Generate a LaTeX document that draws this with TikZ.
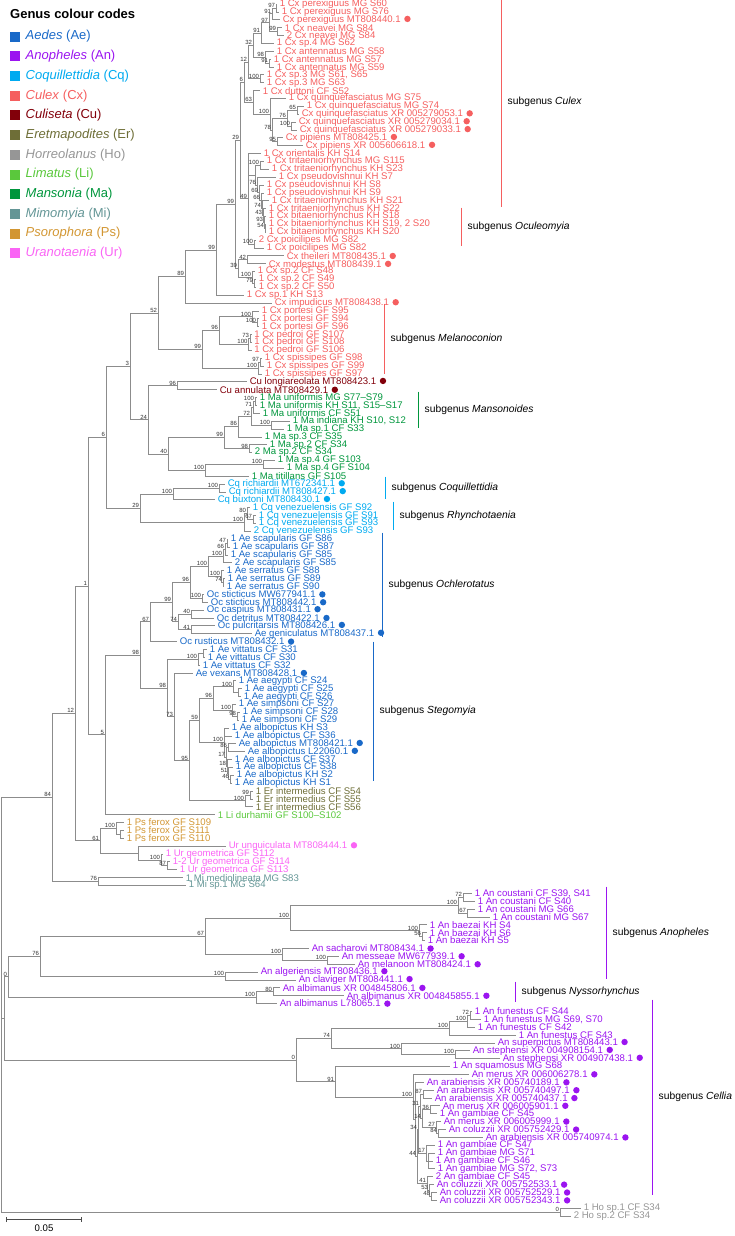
\documentclass[tikz,border=0pt]{standalone}
\usepackage{fontspec}
\setmainfont{Liberation Sans}
\usepackage{tikz}
\usetikzlibrary{calc,arrows.meta}

\definecolor{ae}{RGB}{25,105,200}
\definecolor{an}{RGB}{155,20,240}
\definecolor{cq}{RGB}{0,170,240}
\definecolor{cx}{RGB}{245,95,95}
\definecolor{cu}{RGB}{130,0,10}
\definecolor{er}{RGB}{110,110,55}
\definecolor{ho}{RGB}{150,150,150}
\definecolor{li}{RGB}{90,200,60}
\definecolor{ma}{RGB}{0,150,60}
\definecolor{mi}{RGB}{100,150,150}
\definecolor{ps}{RGB}{210,150,50}
\definecolor{ur}{RGB}{250,100,245}

\newcommand\gb{\hspace{3.5pt}\tikz[baseline=-3.3pt]\fill (0,0) circle (3.2pt);}
\newcommand\brnode[4]{\path ($(#3)!.5!(#4)$) coordinate (#1m) (#2,0) coordinate (#1x); \coordinate (#1) at (#1x |- #1m);}

\begin{document}
\begin{tikzpicture}[
    x=1pt, y=-7.87pt,
    leaf/.style={anchor=west, inner sep=0pt, xshift=2.6pt, font=\fontsize{9.6}{11}\selectfont},
    bs/.style={anchor=south east, inner sep=0.4pt, xshift=-0.4pt, font=\fontsize{6}{6}\selectfont, text=black!80},
    br/.style={draw=black!45, line width=0.7pt},
    sgbar/.style={line width=1pt},
    sglab/.style={anchor=west, inner sep=0pt, font=\fontsize{10.3}{12}\selectfont}
]
\useasboundingbox (0,0.4917) rectangle (735,157.544);

% leaves
\foreach \i/\xx/\txt in {1/277/{1 Cx perexiguus MG S60}, 2/279/{1 Cx perexiguus MG S76}, 3/280/{Cx perexiguus MT808440.1\gb},
  4/282/{1 Cx neavei MG S84}, 5/284/{2 Cx neavei MG S84}, 6/274/{1 Cx sp.4 MG S62}, 7/274/{1 Cx antennatus MG S58},
  8/271/{1 Cx antennatus MG S57}, 9/274/{1 Cx antennatus MG S59}, 10/264/{1 Cx sp.3 MG S61, S65}, 11/264/{1 Cx sp.3 MG S63},
  12/260/{1 Cx duttoni CF S52}, 13/286/{1 Cx quinquefasciatus MG S75}, 14/304/{1 Cx quinquefasciatus MG S74},
  15/299/{Cx quinquefasciatus XR 005279053.1\gb}, 16/296/{Cx quinquefasciatus XR 005279034.1\gb},
  17/297/{Cx quinquefasciatus XR 005279033.1\gb}, 18/283/{Cx pipiens MT808425.1\gb}, 19/303/{Cx pipiens XR 005606618.1\gb},
  20/261/{1 Cx orientalis KH S14}, 21/264/{1 Cx tritaeniorhynchus MG S115}, 22/269/{1 Cx tritaeniorhynchus KH S23},
  23/276/{1 Cx pseudovishnui KH S7}, 24/264/{1 Cx pseudovishnui KH S8}, 25/264/{1 Cx pseudovishnui KH S9},
  26/269/{1 Cx tritaeniorhynchus KH S21}, 27/266/{1 Cx tritaeniorhynchus KH S22}, 28/266/{1 Cx bitaeniorhynchus KH S18},
  29/266/{1 Cx bitaeniorhynchus KH S19, 2 S20}, 30/266/{1 Cx bitaeniorhynchus KH S20}, 31/256/{2 Cx poicilipes MG S82},
  32/264/{1 Cx poicilipes MG S82}, 33/284/{Cx theileri MT808435.1\gb}, 34/266/{Cx modestus MT808439.1\gb},
  35/255/{1 Cx sp.2 CF S48}, 36/256/{1 Cx sp.2 CF S49}, 37/256/{1 Cx sp.2 CF S50}, 38/244/{1 Cx sp.1 KH S13},
  39/272/{Cx impudicus MT808438.1\gb}, 40/259/{1 Cx portesi GF S95}, 41/259/{1 Cx portesi GF S94}, 42/259/{1 Cx portesi GF S96},
  43/251.5/{1 Cx pedroi GF S107}, 44/251.5/{1 Cx pedroi GF S108}, 45/251.5/{1 Cx pedroi GF S106},
  46/262/{1 Cx spissipes GF S98}, 47/264/{1 Cx spissipes GF S99}, 48/262/{1 Cx spissipes GF S97}}
  {\coordinate (t\i) at (\xx,\i); \node[leaf, text=cx] (l\i) at (t\i) {\txt};}
\foreach \i/\xx/\txt in {49/247/{Cu longiareolata MT808423.1\gb}, 50/217/{Cu annulata MT808429.1\gb}}
  {\coordinate (t\i) at (\xx,\i); \node[leaf, text=cu] (l\i) at (t\i) {\txt};}
\foreach \i/\xx/\txt in {51/257/{1 Ma uniformis MG S77–S79}, 52/257/{1 Ma uniformis KH S11, S15–S17}, 53/260/{1 Ma uniformis CF S51},
  54/290/{1 Ma indiana KH S10, S12}, 55/284/{1 Ma sp.1 CF S33}, 56/262/{1 Ma sp.3 CF S35}, 57/267/{1 Ma sp.2 CF S34},
  58/252/{2 Ma sp.2 CF S34}, 59/275/{1 Ma sp.4 GF S103}, 60/284/{1 Ma sp.4 GF S104}, 61/249/{1 Ma titillans GF S105}}
  {\coordinate (t\i) at (\xx,\i); \node[leaf, text=ma] (l\i) at (t\i) {\txt};}
\foreach \i/\xx/\txt in {62/225/{Cq richiardii MT672341.1\gb}, 63/226/{Cq richiardii MT808427.1\gb}, 64/215/{Cq buxtoni MT808430.1\gb},
  65/250/{1 Cq venezuelensis GF S92}, 66/256/{1 Cq venezuelensis GF S91}, 67/256/{1 Cq venezuelensis GF S93},
  68/251/{2 Cq venezuelensis GF S93}}
  {\coordinate (t\i) at (\xx,\i); \node[leaf, text=cq] (l\i) at (t\i) {\txt};}
\foreach \i/\xx/\txt in {69/228/{1 Ae scapularis GF S86}, 70/230/{1 Ae scapularis GF S87}, 71/228/{1 Ae scapularis GF S85},
  72/232/{2 Ae scapularis GF S85}, 73/224/{1 Ae serratus GF S88}, 74/225/{1 Ae serratus GF S89}, 75/224/{1 Ae serratus GF S90},
  76/204/{Oc sticticus MW677941.1\gb}, 77/208/{Oc sticticus MT808442.1\gb}, 78/204/{Oc caspius MT808431.1\gb},
  79/214/{Oc detritus MT808422.1\gb}, 80/215/{Oc pulcritarsis MT808426.1\gb}, 81/252/{Ae geniculatus MT808437.1\gb},
  82/177/{Oc rusticus MT808432.1\gb}, 83/207/{1 Ae vittatus CF S31}, 84/205/{1 Ae vittatus CF S30}, 85/200/{1 Ae vittatus CF S32},
  86/193/{Ae vexans MT808428.1\gb}, 87/236/{1 Ae aegypti CF S24}, 88/242/{1 Ae aegypti CF S25}, 89/241/{1 Ae aegypti CF S26},
  90/236/{1 Ae simpsoni CF S27}, 91/240/{1 Ae simpsoni CF S28}, 92/239/{1 Ae simpsoni CF S29}, 93/229/{1 Ae albopictus KH S3},
  94/232/{1 Ae albopictus CF S36}, 95/236/{Ae albopictus MT808421.1\gb}, 96/245/{Ae albopictus L22060.1\gb},
  97/232/{1 Ae albopictus CF S37}, 98/233/{1 Ae albopictus CF S38}, 99/234/{1 Ae albopictus KH S2}, 100/232/{1 Ae albopictus KH S1}}
  {\coordinate (t\i) at (\xx,\i); \node[leaf, text=ae] (l\i) at (t\i) {\txt};}
\foreach \i/\xx/\txt in {101/253/{1 Er intermedius CF S54}, 102/253/{1 Er intermedius CF S55}, 103/253/{1 Er intermedius CF S56}}
  {\coordinate (t\i) at (\xx,\i); \node[leaf, text=er] (l\i) at (t\i) {\txt};}
\coordinate (t104) at (215,104); \node[leaf, text=li] (l104) at (t104) {1 Li durhamii GF S100–S102};
\foreach \i/\xx/\txt in {105/124/{1 Ps ferox GF S109}, 106/124/{1 Ps ferox GF S111}, 107/124/{1 Ps ferox GF S110}}
  {\coordinate (t\i) at (\xx,\i); \node[leaf, text=ps] (l\i) at (t\i) {\txt};}
\foreach \i/\xx/\txt in {108/226/{Ur unguiculata MT808444.1\gb}, 109/163/{1 Ur geometrica GF S112},
  110/170/{1-2 Ur geometrica GF S114}, 111/177/{1 Ur geometrica GF S113}}
  {\coordinate (t\i) at (\xx,\i); \node[leaf, text=ur] (l\i) at (t\i) {\txt};}
\foreach \i/\xx/\txt in {112/183/{1 Mi mediolineata MG S83}, 113/186/{1 Mi sp.1 MG S64}}
  {\coordinate (t\i) at (\xx,\i); \node[leaf, text=mi] (l\i) at (t\i) {\txt};}
\foreach \i/\xx/\txt in {114/472/{1 An coustani CF S39, S41}, 115/475/{1 An coustani CF S40}, 116/475/{1 An coustani MG S66},
  117/490/{1 An coustani MG S67}, 118/427/{1 An baezai KH S4}, 119/427/{1 An baezai KH S6}, 120/425/{1 An baezai KH S5},
  121/309/{An sacharovi MT808434.1\gb}, 122/339/{An messeae MW677939.1\gb}, 123/355/{An melanoon MT808424.1\gb},
  124/258/{An algeriensis MT808436.1\gb}, 125/296/{An claviger MT808441.1\gb}, 126/280/{An albimanus XR 004845806.1\gb},
  127/344/{An albimanus XR 004845855.1\gb}, 128/277/{An albimanus L78065.1\gb}, 129/472/{1 An funestus CF S44},
  130/481/{1 An funestus MG S69, S70}, 131/475/{1 An funestus CF S42}, 132/516/{1 An funestus CF S43},
  133/495/{An superpictus MT808443.1\gb}, 134/470/{An stephensi XR 004908154.1\gb}, 135/500/{An stephensi XR 004907438.1\gb},
  136/450/{1 An squamosus MG S68}, 137/469/{An merus XR 006006278.1\gb}, 138/424/{An arabiensis XR 005740189.1\gb},
  139/434/{An arabiensis XR 005740497.1\gb}, 140/432/{An arabiensis XR 005740437.1\gb}, 141/440/{An merus XR 006005901.1\gb},
  142/437/{1 An gambiae CF S45}, 143/441/{An merus XR 006005999.1\gb}, 144/446/{An coluzzii XR 005752429.1\gb},
  145/483/{An arabiensis XR 005740974.1\gb}, 146/435/{1 An gambiae CF S47}, 147/435/{1 An gambiae MG S71},
  148/433/{1 An gambiae CF S46}, 149/435/{1 An gambiae MG S72, S73}, 150/433/{2 An gambiae CF S45},
  151/434/{An coluzzii XR 005752533.1\gb}, 152/437/{An coluzzii XR 005752529.1\gb}, 153/437/{An coluzzii XR 005752343.1\gb}}
  {\coordinate (t\i) at (\xx,\i); \node[leaf, text=an] (l\i) at (t\i) {\txt};}
\foreach \i/\xx/\txt in {154/581/{1 Ho sp.1 CF S34}, 155/571/{2 Ho sp.2 CF S34}}
  {\coordinate (t\i) at (\xx,\i); \node[leaf, text=ho] (l\i) at (t\i) {\txt};}

% internal nodes: name, x, first child, last child
\brnode{c1}{276}{t1}{t2} \brnode{c2}{272}{c1}{t3} \brnode{c3}{277}{t4}{t5} \brnode{c4}{269}{c2}{c3}
\brnode{c5}{261}{c4}{t6} \brnode{c6}{269}{t8}{t9} \brnode{c7}{265}{t7}{c6} \brnode{c8}{253}{c5}{c7}
\brnode{c9}{260}{t10}{t11} \brnode{c10}{248}{c8}{c9} \brnode{c11}{297}{t14}{t15} \brnode{c12}{291}{t16}{t17}
\brnode{c13}{287}{c11}{c12} \brnode{c14}{277}{t18}{t19} \brnode{c15}{272}{c13}{c14} \brnode{c16}{270}{t13}{c15}
\brnode{c17}{253}{t12}{c16} \brnode{c18}{244}{c10}{c17} \brnode{c19}{260}{t21}{t22} \brnode{c20}{265}{t29}{t30}
\brnode{c21}{264}{t28}{c20} \brnode{c22}{263}{t27}{c21} \brnode{c23}{262}{t26}{c22} \brnode{c24}{261}{t25}{c23}
\brnode{c25}{259}{t24}{c24} \brnode{c26}{257}{t23}{c25} \brnode{c27}{255}{c19}{c26} \brnode{c28}{254}{t31}{t32}
\brnode{c29}{248}{t20}{c28} \brnode{c30}{240}{c18}{c29} \brnode{c31}{247}{t33}{t34} \brnode{c32}{254}{t36}{t37}
\brnode{c33}{252}{t35}{c32} \brnode{c34}{238}{c31}{c33} \brnode{c35}{235}{c30}{c34} \brnode{c36}{216}{c35}{t38}
\brnode{c37}{185}{c36}{t39} \brnode{c38}{257}{t41}{t42} \brnode{c39}{252}{t40}{c38} \brnode{c40}{250}{t43}{t44}
\brnode{c41}{248.5}{c40}{t45} \brnode{c42}{219}{c39}{c41} \brnode{c43}{260}{t46}{t47} \brnode{c44}{258}{c43}{t48}
\brnode{c45}{202}{c42}{c44} \brnode{c46}{158}{c37}{c45}
\brnode{u1}{177}{t49}{t50}
\brnode{m1}{255}{t51}{t52} \brnode{m2}{253}{m1}{t53} \brnode{m3}{271}{t54}{t55} \brnode{m4}{251}{m2}{m3}
\brnode{m5}{238}{m4}{t56} \brnode{m6}{249}{t57}{t58} \brnode{m7}{224}{m5}{m6} \brnode{m8}{263}{t59}{t60}
\brnode{m9}{205}{m8}{t61} \brnode{m10}{168}{m7}{m9} \brnode{m11}{148}{u1}{m10} \brnode{m12}{130}{c46}{m11}
\brnode{q1}{219}{t62}{t63} \brnode{q2}{173}{q1}{t64} \brnode{q3}{253}{t66}{t67} \brnode{q4}{247}{t65}{q3}
\brnode{q5}{244}{q4}{t68} \brnode{q6}{140}{q2}{q5} \brnode{q7}{106}{m12}{q6}
\brnode{a1}{227}{t69}{t70} \brnode{a2}{225}{a1}{t71} \brnode{a3}{223}{a2}{t72} \brnode{a4}{223}{t74}{t75}
\brnode{a5}{221}{t73}{a4} \brnode{a6}{208}{a3}{a5} \brnode{a7}{202}{t76}{t77} \brnode{a8}{190}{a6}{a7}
\brnode{a9}{191}{t78}{t79} \brnode{a10}{191}{t80}{t81} \brnode{a11}{178}{a9}{a10} \brnode{a12}{172}{a8}{a11}
\brnode{a13}{150}{a12}{t82} \brnode{a14}{203}{t83}{t84} \brnode{a15}{198}{a14}{t85} \brnode{a16}{238}{t88}{t89}
\brnode{a17}{233}{t87}{a16} \brnode{a18}{237}{t91}{t92} \brnode{a19}{232}{t90}{a18} \brnode{a20}{213}{a17}{a19}
\brnode{a21}{228}{t95}{t96} \brnode{a22}{230}{t99}{t100} \brnode{a23}{228.5}{t98}{a22} \brnode{a24}{227}{t97}{a23}
\brnode{a25}{226}{a21}{a24} \brnode{a26}{224}{t93}{a25} \brnode{a27}{199}{a20}{a26} \brnode{a28}{250}{t101}{t102}
\brnode{a29}{245}{a28}{t103} \brnode{a30}{189}{a27}{a29} \brnode{a31}{174}{t86}{a30} \brnode{a32}{167}{a15}{a31}
\brnode{a33}{140}{a13}{a32} \brnode{a34}{105}{a33}{t104} \brnode{n1}{88}{q7}{a34}
\brnode{p1}{120}{t106}{t107} \brnode{p2}{116}{t105}{p1} \brnode{r1}{167}{t110}{t111} \brnode{r2}{161}{t109}{r1}
\brnode{r3}{138}{t108}{r2} \brnode{n61}{100}{p2}{r3} \brnode{n12}{75}{n1}{n61} \brnode{mi}{98}{t112}{t113}
\brnode{n84}{52}{n12}{mi}
\brnode{b1}{463}{t114}{t115} \brnode{b2}{467}{t116}{t117} \brnode{b3}{458}{b1}{b2} \brnode{b4}{422}{t119}{t120}
\brnode{b5}{419}{t118}{b4} \brnode{b6}{290}{b3}{b5} \brnode{b7}{327}{t122}{t123} \brnode{b8}{282}{t121}{b7}
\brnode{b9}{205}{b6}{b8} \brnode{b10}{225}{t124}{t125} \brnode{b11}{40}{b9}{b10} \brnode{b12}{273}{t126}{t127}
\brnode{b13}{256}{b12}{t128} \brnode{b14}{8}{b11}{b13}
\brnode{e1}{470}{t129}{t130} \brnode{e2}{467}{e1}{t131} \brnode{e3}{449}{e2}{t132} \brnode{e4}{455}{t134}{t135}
\brnode{e5}{401}{t133}{e4} \brnode{e6}{331}{e3}{e5} \brnode{e7}{423}{t139}{t140} \brnode{e8}{430}{t141}{t142}
\brnode{e9}{438}{t144}{t145} \brnode{e10}{436}{t143}{e9} \brnode{e11}{422}{e8}{e10} \brnode{e12}{420}{e7}{e11}
\brnode{e13}{428}{t147}{t149} \brnode{e14}{426}{t146}{e13} \brnode{e15}{418}{e12}{e14} \brnode{e16}{431}{t152}{t153}
\brnode{e17}{429}{t151}{e16} \brnode{e18}{427}{t150}{e17} \brnode{e19}{417}{e15}{e18} \brnode{e20}{415}{t138}{e19}
\brnode{e21}{413}{t137}{e20} \brnode{e22}{335}{t136}{e21} \brnode{e23}{296}{e6}{e22} \brnode{an}{4}{b14}{e23}
\brnode{h1}{560}{t154}{t155} \brnode{root}{1}{n84}{h1}

% branches
\foreach \p/\c in {c1/t1, c1/t2, c2/c1, c2/t3, c3/t4, c3/t5, c4/c2, c4/c3, c5/c4, c5/t6, c6/t8, c6/t9, c7/t7, c7/c6,
  c8/c5, c8/c7, c9/t10, c9/t11, c10/c8, c10/c9, c11/t14, c11/t15, c12/t16, c12/t17, c13/c11, c13/c12, c14/t18, c14/t19,
  c15/c13, c15/c14, c16/t13, c16/c15, c17/t12, c17/c16, c18/c10, c18/c17, c19/t21, c19/t22, c20/t29, c20/t30, c21/t28,
  c21/c20, c22/t27, c22/c21, c23/t26, c23/c22, c24/t25, c24/c23, c25/t24, c25/c24, c26/t23, c26/c25, c27/c19, c27/c26,
  c28/t31, c28/t32, c29/t20, c29/c27, c29/c28, c30/c18, c30/c29, c31/t33, c31/t34, c32/t36, c32/t37, c33/t35, c33/c32,
  c34/c31, c34/c33, c35/c30, c35/c34, c36/c35, c36/t38, c37/c36, c37/t39, c38/t41, c38/t42, c39/t40, c39/c38, c40/t43,
  c40/t44, c41/c40, c41/t45, c42/c39, c42/c41, c43/t46, c43/t47, c44/c43, c44/t48, c45/c42, c45/c44, c46/c37, c46/c45,
  u1/t49, u1/t50, m1/t51, m1/t52, m2/m1, m2/t53, m3/t54, m3/t55, m4/m2, m4/m3, m5/m4, m5/t56, m6/t57, m6/t58, m7/m5,
  m7/m6, m8/t59, m8/t60, m9/m8, m9/t61, m10/m7, m10/m9, m11/u1, m11/m10, m12/c46, m12/m11,
  q1/t62, q1/t63, q2/q1, q2/t64, q3/t66, q3/t67, q4/t65, q4/q3, q5/q4, q5/t68, q6/q2, q6/q5, q7/m12, q7/q6,
  a1/t69, a1/t70, a2/a1, a2/t71, a3/a2, a3/t72, a4/t74, a4/t75, a5/t73, a5/a4, a6/a3, a6/a5, a7/t76, a7/t77, a8/a6,
  a8/a7, a9/t78, a9/t79, a10/t80, a10/t81, a11/a9, a11/a10, a12/a8, a12/a11, a13/a12, a13/t82, a14/t83, a14/t84,
  a15/a14, a15/t85, a16/t88, a16/t89, a17/t87, a17/a16, a18/t91, a18/t92, a19/t90, a19/a18, a20/a17, a20/a19,
  a21/t95, a21/t96, a22/t99, a22/t100, a23/t98, a23/a22, a24/t97, a24/a23, a25/a21, a25/a24, a26/t93, a26/t94,
  a26/a25, a27/a20, a27/a26, a28/t101, a28/t102, a29/a28, a29/t103, a30/a27, a30/a29, a31/t86, a31/a30, a32/a15,
  a32/a31, a33/a13, a33/a32, a34/a33, a34/t104, n1/q7, n1/a34,
  p1/t106, p1/t107, p2/t105, p2/p1, r1/t110, r1/t111, r2/t109, r2/r1, r3/t108, r3/r2, n61/p2, n61/r3, n12/n1,
  n12/n61, mi/t112, mi/t113, n84/n12, n84/mi,
  b1/t114, b1/t115, b2/t116, b2/t117, b3/b1, b3/b2, b4/t119, b4/t120, b5/t118, b5/b4, b6/b3, b6/b5, b7/t122,
  b7/t123, b8/t121, b8/b7, b9/b6, b9/b8, b10/t124, b10/t125, b11/b9, b11/b10, b12/t126, b12/t127, b13/b12, b13/t128,
  b14/b11, b14/b13,
  e1/t129, e1/t130, e2/e1, e2/t131, e3/e2, e3/t132, e4/t134, e4/t135, e5/t133, e5/e4, e6/e3, e6/e5, e7/t139,
  e7/t140, e8/t141, e8/t142, e9/t144, e9/t145, e10/t143, e10/e9, e11/e8, e11/e10, e12/e7, e12/e11, e13/t147,
  e13/t148, e13/t149, e14/t146, e14/e13, e15/e12, e15/e14, e16/t152, e16/t153, e17/t151, e17/e16, e18/t150,
  e18/e17, e19/e15, e19/e18, e20/t138, e20/e19, e21/t137, e21/e20, e22/t136, e22/e21, e23/e6, e23/e22,
  an/b14, an/e23, h1/t154, h1/t155, root/n84, root/an, root/h1}
  \draw[br] (\p) |- (\c);

% bootstrap values
\foreach \nn/\v in {c1/97, c2/91, c3/99, c4/97, c5/91, c6/91, c7/98, c8/32, c9/100, c10/12, c11/65, c12/100,
  c13/76, c14/95, c15/78, c16/100, c17/63, c18/6, c19/100, c20/54, c21/93, c22/43, c23/74, c24/66, c25/69, c26/76,
  c28/100, c29/49, c30/29, c31/42, c32/79, c33/100, c34/39, c35/99, c36/99, c37/89, c38/100, c39/100, c40/73,
  c41/100, c42/96, c43/97, c44/100, c45/99, c46/52, u1/96, m1/100, m2/71, m3/100, m4/72, m5/86, m6/98, m7/99,
  m8/100, m9/100, m10/40, m11/24, m12/3, q1/100, q2/100, q3/67, q4/80, q5/100, q6/29, q7/6, a1/47, a2/66, a3/100,
  a4/74, a5/100, a6/100, a7/100, a8/96, a9/40, a10/41, a11/74, a12/99, a13/67, a15/100, a17/100, a18/98, a19/100,
  a20/96, a21/86, a22/46, a23/51, a24/18, a25/17, a26/100, a27/59, a28/99, a29/100, a30/95, a31/73, a32/98,
  a33/98, a34/5, n1/1, p2/100, r1/87, r2/100, n61/61, n12/12, mi/76, n84/84,
  b1/72, b2/67, b3/100, b4/56, b5/100, b6/100, b7/100, b8/100, b9/67, b10/100, b11/76, b12/80, b13/100, b14/0,
  e1/72, e2/100, e3/100, e4/100, e5/100, e6/74, e7/87, e8/36, e9/84, e10/27, e11/14, e12/31, e14/17, e15/34,
  e16/48, e17/53, e18/41, e19/44, e21/100, e22/91, e23/0, h1/0}
  \node[bs] (bs\nn) at (\nn) {\v};

\begin{scope}[y=-1pt, shift={(0,0.4917)}]
% legend
\node[anchor=west, inner sep=0pt, font=\bfseries\fontsize{13}{15}\selectfont] (lgtitle) at (10,17) {Genus colour codes};
\foreach \k/\col/\gn/\ab in {0/ae/Aedes/Ae, 1/an/Anopheles/An, 2/cq/Coquillettidia/Cq, 3/cx/Culex/Cx, 4/cu/Culiseta/Cu,
  5/er/Eretmapodites/Er, 6/ho/Horreolanus/Ho, 7/li/Limatus/Li, 8/ma/Mansonia/Ma, 9/mi/Mimomyia/Mi,
  10/ps/Psorophora/Ps, 11/ur/Uranotaenia/Ur} {
  \fill[\col] (10,{35+19.7*\k}) rectangle ++(10,10);
  \node[anchor=west, inner sep=0pt, text=\col, font=\fontsize{13}{15}\selectfont] (lg\k) at (25.5,{40+19.7*\k}) {\textit{\gn} (\ab)};
}
% subgenus bars
\foreach \col/\xx/\ya/\yb/\nm in {cx/501/1/210/Culex, cx/461/211/249/Oculeomyia, cx/384/307/377/Melanoconion,
  ma/418/395/431/Mansonoides, cq/385/480/502/Coquillettidia, cq/393/505/533/Rhynchotaenia, ae/382/536/640/Ochlerotatus,
  ae/373/645/784/Stegomyia, an/606/890/982/Anopheles, an/515/985/1005/Nyssorhynchus, an/652/1003/1198/Cellia} {
  \draw[sgbar, \col] (\xx,\ya) -- (\xx,\yb);
  \node[sglab] (sg\nm) at (\xx+6.5,{(\ya+\yb)/2}) {subgenus \textit{\nm}};
}
% scale bar
\coordinate (sb0) at (6,1223);
\coordinate (sb1) at (82,1223);
\draw[line width=1.2pt, black!70, {Bar[width=5pt]}-{Bar[width=5pt]}] (sb0) -- (sb1);
\node[font=\fontsize{9.6}{11}\selectfont] (sblab) at (44,1231.5) {0.05};
\end{scope}

\end{tikzpicture}
\end{document}
